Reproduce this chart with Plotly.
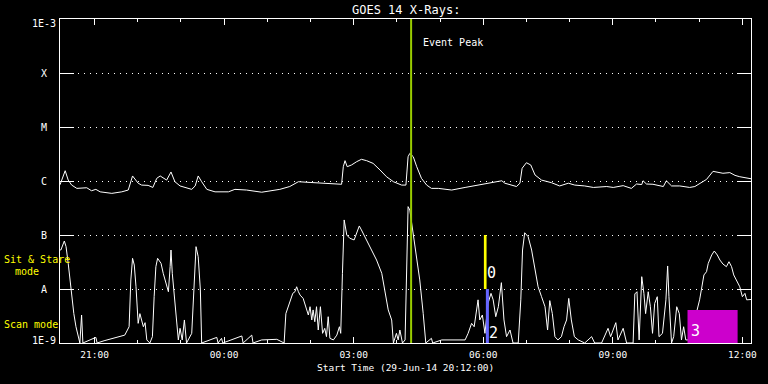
import math
from datetime import datetime, timedelta
import plotly.graph_objects as go

# ---------------- data ----------------
START = datetime(2014, 6, 29, 20, 12)
END = datetime(2014, 6, 30, 12, 12)

# long channel (1-8 A): hours after start, flux W/m^2
long_hours = [0.00, 0.03, 0.12, 0.19, 0.27, 0.39, 0.62, 0.73, 0.83, 0.93, 1.20, 1.43, 1.58, 1.68,
              1.81, 1.89, 2.04, 2.15, 2.24, 2.32, 2.47, 2.57, 2.66, 2.78, 2.93, 3.05, 3.13, 3.20,
              3.28, 3.40, 3.59, 3.90, 4.05, 4.32, 4.67, 5.09, 5.32, 5.52, 5.79, 6.25, 6.52, 6.56,
              6.60, 6.65, 6.75, 6.87, 6.98, 7.10, 7.25, 7.41, 7.56, 7.72, 7.91, 8.01, 8.05, 8.06,
              8.10, 8.18, 8.26, 8.37, 8.49, 8.60, 8.76, 9.07, 9.38, 9.84, 10.07, 10.23, 10.30,
              10.57, 10.65, 10.70, 10.80, 10.90, 11.00, 11.15, 11.38, 11.57, 11.77, 11.92, 12.15,
              12.35, 12.66, 12.81, 13.04, 13.23, 13.35, 13.47, 13.50, 13.58, 13.73, 13.97, 14.04,
              14.16, 14.35, 14.58, 14.70, 14.82, 14.97, 15.12, 15.24, 15.35, 15.51, 15.63, 15.74,
              15.97, 16.00]
long_flux = [0.85e-6, 1.00e-6, 1.55e-6, 1.04e-6, 0.84e-6, 0.73e-6, 0.75e-6, 0.66e-6, 0.70e-6,
             0.63e-6, 0.59e-6, 0.63e-6, 0.68e-6, 1.24e-6, 0.91e-6, 0.84e-6, 0.83e-6, 0.76e-6,
             1.12e-6, 1.24e-6, 1.04e-6, 1.47e-6, 0.97e-6, 0.81e-6, 0.76e-6, 0.70e-6, 0.81e-6,
             1.24e-6, 0.97e-6, 0.70e-6, 0.63e-6, 0.63e-6, 0.70e-6, 0.68e-6, 0.62e-6, 0.70e-6,
             0.79e-6, 0.97e-6, 0.94e-6, 0.91e-6, 0.87e-6, 1.84e-6, 2.38e-6, 1.84e-6, 1.98e-6,
             2.28e-6, 2.52e-6, 2.38e-6, 2.12e-6, 1.60e-6, 1.20e-6, 0.97e-6, 0.84e-6, 0.84e-6,
             1.84e-6, 2.82e-6, 3.25e-6, 2.82e-6, 1.84e-6, 1.12e-6, 0.84e-6, 0.73e-6, 0.73e-6,
             0.68e-6, 0.76e-6, 0.88e-6, 0.93e-6, 1.01e-6, 0.91e-6, 0.79e-6, 0.91e-6, 1.72e-6,
             2.18e-6, 1.98e-6, 1.29e-6, 1.04e-6, 0.93e-6, 0.81e-6, 0.91e-6, 0.84e-6, 0.81e-6,
             0.76e-6, 0.79e-6, 0.76e-6, 0.82e-6, 0.73e-6, 0.88e-6, 0.86e-6, 1.01e-6, 0.88e-6,
             0.87e-6, 0.79e-6, 1.01e-6, 0.81e-6, 0.81e-6, 0.76e-6, 0.79e-6, 0.91e-6, 1.07e-6,
             1.51e-6, 1.47e-6, 1.39e-6, 1.43e-6, 1.27e-6, 1.20e-6, 1.10e-6, 1.10e-6]

# short channel (0.5-4 A)
short_hours = [0.00, 0.02, 0.10, 0.14, 0.19, 0.23, 0.28, 0.32, 0.37, 0.42, 0.46, 0.50, 0.53, 0.83,
               0.86, 1.02, 1.50, 1.60, 1.64, 1.68, 1.72, 1.76, 1.81, 1.85, 1.89, 1.93, 1.97, 2.01,
               2.08, 2.14, 2.18, 2.22, 2.26, 2.34, 2.39, 2.47, 2.51, 2.55, 2.57, 2.60, 2.65, 2.70,
               2.74, 2.78, 2.83, 2.88, 2.93, 3.05, 3.11, 3.15, 3.20, 3.25, 3.28, 3.63, 3.66, 3.74,
               3.77, 4.21, 4.24, 4.44, 4.47, 4.67, 5.02, 5.19, 5.23, 5.28, 5.32, 5.39, 5.44, 5.48,
               5.52, 5.56, 5.63, 5.69, 5.75, 5.79, 5.83, 5.86, 5.90, 5.94, 5.98, 6.03, 6.08, 6.13,
               6.17, 6.21, 6.25, 6.33, 6.41, 6.47, 6.50, 6.54, 6.58, 6.64, 6.71, 6.81, 6.87, 6.93,
               6.98, 7.06, 7.18, 7.33, 7.45, 7.52, 7.60, 7.68, 7.72, 7.79, 7.83, 7.87, 7.93, 7.99,
               8.03, 8.06, 8.10, 8.18, 8.26, 8.33, 8.41, 8.47, 8.60, 8.63, 8.84, 9.14, 9.38, 9.45,
               9.53, 9.59, 9.65, 9.68, 9.72, 9.78, 9.84, 9.91, 9.98, 10.03, 10.09, 10.15, 10.22,
               10.28, 10.34, 10.42, 10.49, 10.61, 10.67, 10.71, 10.76, 10.84, 10.92, 11.00, 11.07,
               11.15, 11.23, 11.29, 11.34, 11.40, 11.46, 11.53, 11.61, 11.67, 11.73, 11.78, 11.84,
               11.91, 12.00, 12.15, 12.31, 12.38, 12.54, 12.69, 12.75, 12.87, 12.92, 13.04, 13.12,
               13.27, 13.31, 13.36, 13.41, 13.47, 13.52, 13.56, 13.62, 13.67, 13.72, 13.77, 13.83,
               13.87, 13.95, 14.03, 14.07, 14.10, 14.16, 14.21, 14.28, 14.34, 14.39, 14.44, 14.49,
               14.58, 14.70, 14.78, 14.81, 14.85, 14.91, 14.97, 15.01, 15.09, 15.15, 15.22, 15.28,
               15.35, 15.43, 15.49, 15.55, 15.60, 15.66, 15.74, 15.80, 15.86, 15.90, 15.97, 16.00]
short_flux = [5.3e-8, 5.27e-8, 7.74e-8, 6.08e-8, 2.98e-8, 1.47e-8, 7.2e-9, 3.5e-9, 2.0e-9, 1.4e-9,
              1.0e-9, 3.3e-9, 1.0e-9, 1.27e-9, 1.0e-9, 1.1e-9, 1.4e-9, 2.0e-9, 1.47e-8, 3.70e-8,
              2.78e-8, 1.10e-8, 2.31e-9, 3.5e-9, 2.67e-9, 2.0e-9, 2.38e-9, 1.14e-9, 1.0e-9, 1.31e-9,
              7.2e-9, 2.59e-8, 3.70e-8, 2.98e-8, 1.95e-8, 1.10e-8, 8.9e-9, 2.59e-8, 5.27e-8, 1.95e-8,
              7.2e-9, 2.67e-9, 1.14e-9, 1.87e-9, 1.14e-9, 2.67e-9, 1.0e-9, 1.51e-9, 1.31e-8, 6.08e-8,
              3.97e-8, 9.6e-9, 1.0e-9, 1.27e-9, 1.0e-9, 1.22e-9, 1.0e-9, 1.35e-9, 1.0e-9, 1.4e-9,
              1.0e-9, 1.14e-9, 1.17e-9, 1.0e-9, 3.5e-9, 4.7e-9, 5.8e-9, 8.3e-9, 8.9e-9, 1.10e-8,
              8.9e-9, 7.7e-9, 6.7e-9, 4.7e-9, 3.3e-9, 4.7e-9, 2.67e-9, 4.1e-9, 2.48e-9, 4.7e-9,
              1.74e-9, 4.7e-9, 1.51e-9, 1.87e-9, 1.31e-9, 3.07e-9, 1.22e-9, 1.14e-9, 1.4e-9, 2.0e-9,
              1.51e-9, 1.95e-8, 1.90e-7, 1.0e-7, 8.7e-8, 8.1e-8, 1.15e-7, 1.47e-7, 1.24e-7, 9.3e-8,
              6.08e-8, 3.44e-8, 1.95e-8, 9.6e-9, 4.1e-9, 2.67e-9, 1.0e-9, 1.51e-9, 1.14e-9, 1.74e-9,
              1.0e-9, 1.14e-9, 1.95e-8, 3.35e-7, 2.90e-7, 1.07e-7, 3.97e-8, 1.47e-8, 3.5e-9, 1.0e-9,
              1.22e-9, 1.0e-9, 1.14e-9, 1.14e-9, 1.14e-9, 1.51e-9, 2.31e-9, 2.0e-9, 4.1e-9, 6.3e-9,
              2.67e-9, 3.3e-9, 1.51e-9, 5.4e-9, 8.3e-9, 6.3e-9, 3.07e-9, 4.7e-9, 1.31e-8, 2.67e-9,
              1.31e-9, 1.74e-9, 1.0e-9, 1.0e-9, 6.3e-9, 5.27e-8, 1.10e-7, 9.3e-8, 5.27e-8, 2.25e-8,
              1.10e-8, 7.2e-9, 4.7e-9, 1.74e-9, 6.1e-9, 3.5e-9, 1.31e-9, 1.14e-9, 1.31e-9, 2.0e-9,
              2.67e-9, 6.7e-9, 2.67e-9, 1.31e-9, 1.14e-9, 1.0e-9, 1.31e-9, 1.0e-9, 1.0e-9, 1.87e-9,
              1.31e-9, 2.38e-9, 1.14e-9, 1.87e-9, 1.0e-9, 1.0e-9, 8.1e-9, 8.9e-9, 1.14e-9, 1.69e-8,
              8.3e-9, 3.5e-9, 8.9e-9, 4.7e-9, 1.51e-9, 5.4e-9, 7.2e-9, 1.31e-9, 1.51e-9, 6.3e-9,
              2.67e-8, 7.2e-9, 1.0e-9, 1.31e-9, 4.7e-9, 3.5e-9, 1.14e-9, 2.0e-9, 1.14e-9, 1.14e-9,
              2.67e-9, 4.7e-9, 6.3e-9, 9.6e-9, 1.82e-8, 2.09e-8, 2.98e-8, 4.26e-8, 5.05e-8, 4.26e-8,
              3.44e-8, 2.90e-8, 2.59e-8, 3.2e-8, 2.59e-8, 1.82e-8, 1.47e-8, 1.10e-8, 7.2e-9, 8.3e-9,
              6.3e-9, 6.4e-9, 6.4e-9]

y_tick_values = [1e-9, 1e-8, 1e-7, 1e-6, 1e-5, 1e-4, 1e-3]
y_tick_labels = ["1E-9", "A", "B", "C", "M", "X", "1E-3"]

event_peak_hour = 8.13

mode_names = ["0", "2", "3"]
mode_start_h = [9.815, 9.861, 14.53]
mode_end_h = [9.877, 9.931, 15.69]
mode_low = [1e-8, 1e-9, 1e-9]
mode_high = [1e-7, 1e-8, 4.1e-9]

# ---------------- styles ----------------
MONO = "DejaVu Sans Mono"
mode_colors = ["#ffff00", "#6666ff", "#cc00cc"]
mode_label_shift = [(-1.5, 5), (-1.5, -1), (1, 1)]
PEAK_COLOR = "#99cc00"


def t(h):
    return START + timedelta(hours=h)


fig = go.Figure()
fig.add_trace(go.Scatter(x=[t(h) for h in long_hours], y=long_flux, mode="lines",
                         line=dict(color="white", width=1), showlegend=False))
fig.add_trace(go.Scatter(x=[t(h) for h in short_hours], y=short_flux, mode="lines",
                         line=dict(color="white", width=1), showlegend=False))

shapes = []
annotations = []
for name, s, e, lo, hi, c, (dx, dy) in zip(mode_names, mode_start_h, mode_end_h, mode_low,
                                            mode_high, mode_colors, mode_label_shift):
    # shapes on a log axis take data values directly
    shapes.append(dict(type="rect", xref="x", yref="y", x0=t(s), x1=t(e),
                       y0=lo, y1=hi, fillcolor=c,
                       line=dict(width=0), layer="above"))
    annotations.append(dict(text=name, x=t(e) if name != "3" else t(s), y=math.log10(lo),
                            xref="x", yref="y", xanchor="left", yanchor="bottom",
                            xshift=dx, yshift=dy, showarrow=False,
                            font=dict(family=MONO, size=15, color="white")))

shapes.append(dict(type="line", xref="x", yref="paper", x0=t(event_peak_hour),
                   x1=t(event_peak_hour), y0=0, y1=1,
                   line=dict(color=PEAK_COLOR, width=2), layer="above"))

annotations.append(dict(text="Event Peak", x=t(event_peak_hour), y=0.926, xref="x",
                        yref="paper", xanchor="left", yanchor="middle", xshift=10,
                        showarrow=False, font=dict(family=MONO, size=10, color="white")))

for v, lab in zip(y_tick_values, y_tick_labels):
    shift = 0
    if lab.startswith("1E-3"):
        shift = -4
    elif lab.startswith("1E-9"):
        shift = 3
    annotations.append(dict(text=lab, x=-0.0232, y=math.log10(v), xref="paper", yref="y",
                            xanchor="center", yanchor="middle", yshift=shift, showarrow=False,
                            font=dict(family=MONO, size=10, color="white")))

annotations += [
    dict(text="GOES 14 X-Rays:", x=0.5, y=1.028, xref="paper", yref="paper",
         xanchor="center", yanchor="middle", showarrow=False,
         font=dict(family=MONO, size=12, color="white")),
    dict(text="Start Time (29-Jun-14 20:12:00)", x=0.5, y=-0.077, xref="paper",
         yref="paper", xanchor="center", yanchor="middle", showarrow=False,
         font=dict(family=MONO, size=9.5, color="white")),
    dict(text="Sit & Stare", x=-0.084, y=0.259, xref="paper", yref="paper",
         xanchor="left", yanchor="middle", showarrow=False,
         font=dict(family=MONO, size=10, color="#ffff00")),
    dict(text="mode", x=-0.068, y=0.222, xref="paper", yref="paper",
         xanchor="left", yanchor="middle", showarrow=False,
         font=dict(family=MONO, size=10, color="#ffff00")),
    dict(text="Scan mode", x=-0.084, y=0.0586, xref="paper", yref="paper",
         xanchor="left", yanchor="middle", showarrow=False,
         font=dict(family=MONO, size=10, color="#ffff00")),
]

fig.update_layout(
    width=768, height=384,
    margin=dict(l=60, r=17, t=19, b=41, pad=0),
    paper_bgcolor="black", plot_bgcolor="black",
    shapes=shapes, annotations=annotations,
    showlegend=False,
    xaxis=dict(type="date", range=[START, END], tick0="2014-06-29 21:00",
               dtick=3 * 3600000, tickformat="%H:%M", ticks="inside", ticklen=6,
               tickcolor="white", tickwidth=1, showline=True, linecolor="white",
               linewidth=1, mirror="ticks", showgrid=False, zeroline=False,
               ticklabelstandoff=3,
               tickfont=dict(family=MONO, size=9.5, color="white"),
               minor=dict(dtick=3600000, tick0="2014-06-29 21:00", ticks="inside",
                          ticklen=3, tickcolor="white", showgrid=False)),
    yaxis=dict(type="log", range=[-9, -3], tickvals=y_tick_values, showticklabels=False,
               ticks="inside", ticklen=14, tickcolor="white", tickwidth=1,
               showline=True, linecolor="white", linewidth=1, mirror="ticks",
               showgrid=True, gridcolor="white", gridwidth=1, griddash="1px,5px",
               zeroline=False),
)

fig.write_html("out.html", config={"displayModeBar": False},
               post_script="document.body.style.margin='0';"
                           "document.body.style.background='black';")
